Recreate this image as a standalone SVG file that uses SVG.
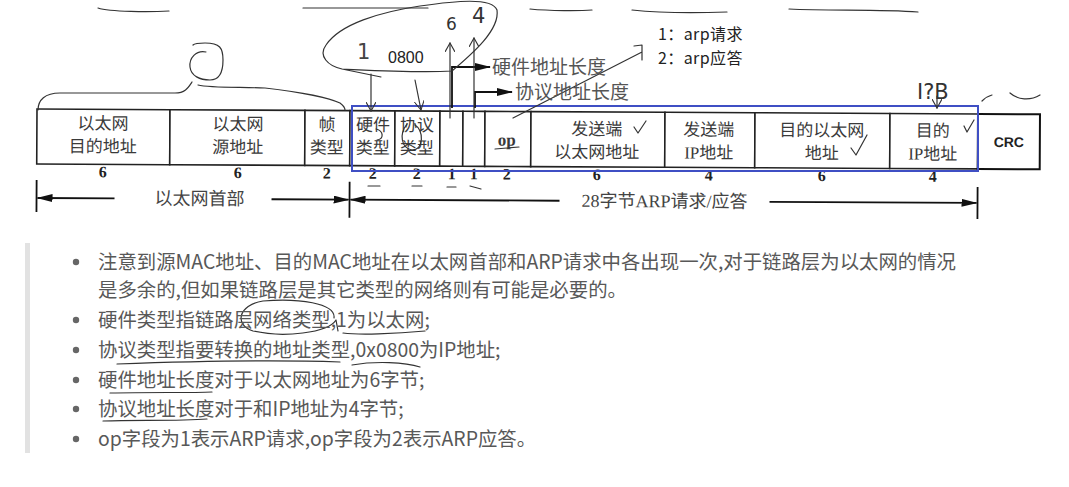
<svg xmlns="http://www.w3.org/2000/svg" width="1069" height="487" viewBox="0 0 1069 487">
<style>
.cell{fill:#fff;stroke:#222;stroke-width:1.6}
.ct{font-family:"Liberation Serif","Noto Sans CJK SC",serif;font-size:17px;fill:#3a3a3a;text-anchor:middle}
.num{font-family:"Liberation Serif","Noto Sans CJK SC",serif;font-size:16px;font-weight:bold;fill:#222;text-anchor:middle}
.lbl{font-family:"Liberation Serif","Noto Sans CJK SC",serif;font-size:18px;fill:#444}
.hand{fill:none;stroke:#333;stroke-width:1.2;stroke-linecap:round;stroke-linejoin:round}
.hw{font-family:"DejaVu Sans",sans-serif;fill:#333}
.ln{fill:none;stroke:#111;stroke-width:1.8}
.body{font-family:"Noto Sans CJK SC","Liberation Sans",sans-serif;font-size:19.4px;fill:#585858}
.bul{fill:#666}
.op{font-family:"Noto Sans CJK SC","Liberation Sans",sans-serif;font-size:16px;fill:#222;letter-spacing:0.4px}
</style>
<defs>
<marker id="ah" markerWidth="16" markerHeight="8" refX="15" refY="4" orient="auto-start-reverse" markerUnits="userSpaceOnUse"><path d="M0,0 L16,4 L0,8 z" fill="#111"/></marker>
<marker id="hv" markerWidth="10" markerHeight="10" refX="9" refY="5" orient="auto" markerUnits="userSpaceOnUse"><path d="M0,0 L9,5 L0,10" fill="none" stroke="#333" stroke-width="1.1"/></marker>
</defs>
<rect width="1069" height="487" fill="#fff"/>

<!-- top cut-off underline strokes -->
<g id="top-marks" class="hand">
<path d="M98,8 C110,12 150,12 169,11"/>
<path d="M303,8 L428,8"/>
<path d="M530,9 C550,11 580,11 592,10"/>
<path d="M632,10 C660,13 700,13 727,12"/>
<path d="M789,9 C830,11 880,9 918,12"/>
</g>

<g transform="rotate(0.3 37 109)">
<g id="n-eth-dst"><rect class="cell" x="37" y="109" width="133" height="55"/><text class="ct" x="103" y="129">以太网</text><text class="ct" x="103" y="152">目的地址</text><text class="num" x="103" y="177">6</text></g>
<g id="n-eth-src"><rect class="cell" x="170" y="109" width="135" height="55"/><text class="ct" x="238" y="129">以太网</text><text class="ct" x="238" y="152">源地址</text><text class="num" x="238" y="177">6</text></g>
<g id="n-frame-type"><rect class="cell" x="305" y="109" width="45" height="55"/><text class="ct" x="327" y="129">帧</text><text class="ct" x="327" y="152">类型</text><text class="num" x="327" y="177">2</text></g>
<g id="n-hw-type"><rect class="cell" x="350" y="109" width="45" height="55"/><text class="ct" x="373" y="129">硬件</text><text class="ct" x="373" y="152">类型</text><text class="num" x="373" y="177">2</text></g>
<g id="n-proto-type"><rect class="cell" x="395" y="109" width="45" height="55"/><text class="ct" x="417" y="129">协议</text><text class="ct" x="417" y="152">类型</text><text class="num" x="417" y="177">2</text></g>
<g id="n-hw-len"><rect class="cell" x="440" y="109" width="23" height="55"/><text class="num" x="452" y="177">1</text></g>
<g id="n-proto-len"><rect class="cell" x="463" y="109" width="22" height="55"/><text class="num" x="474" y="177">1</text></g>
<g id="n-op"><rect class="cell" x="485" y="109" width="46" height="55"/><text class="ct" x="507" y="143" style="font-weight:bold">op</text><text class="num" x="507" y="177">2</text></g>
<g id="n-sender-mac"><rect class="cell" x="531" y="109" width="134" height="55"/><text class="ct" x="597" y="132">发送端</text><text class="ct" x="597" y="155">以太网地址</text><text class="num" x="597" y="177">6</text></g>
<g id="n-sender-ip"><rect class="cell" x="665" y="109" width="90" height="55"/><text class="ct" x="709" y="132">发送端</text><text class="ct" x="709" y="155">IP地址</text><text class="num" x="709" y="177">4</text></g>
<g id="n-target-mac"><rect class="cell" x="755" y="109" width="135" height="55"/><text class="ct" x="822" y="132">目的以太网</text><text class="ct" x="822" y="155">地址</text><text class="num" x="822" y="177">6</text></g>
<g id="n-target-ip"><rect class="cell" x="890" y="109" width="88" height="55"/><text class="ct" x="933" y="132">目的</text><text class="ct" x="933" y="155">IP地址</text><text class="num" x="933" y="177">4</text></g>
<g id="n-crc"><rect x="978" y="109" width="62" height="55" fill="#fff" stroke="#111" stroke-width="2"/><text x="1009" y="142" text-anchor="middle" style="font-family:'Liberation Sans',sans-serif;font-size:14px;font-weight:bold;fill:#222">CRC</text></g>

<g id="span-arrows">
<path class="ln" d="M37,180 V212 M350,180 V216 M978,182 V214"/>
<path class="ln" d="M115,198 H38" marker-end="url(#ah)"/>
<path class="ln" d="M272,198 H349" marker-end="url(#ah)"/>
<path class="ln" d="M560,198 H351" marker-end="url(#ah)"/>
<path class="ln" d="M770,198 H977" marker-end="url(#ah)"/>
<text class="lbl" x="200" y="204" text-anchor="middle">以太网首部</text>
<text class="lbl" x="665" y="204" text-anchor="middle">28字节ARP请求/应答</text>
</g>
</g>

<rect id="arp-box" x="352" y="106" width="626" height="65" fill="none" stroke="#3f4fc4" stroke-width="2"/>

<g id="connectors">
<path class="ln" d="M452,108 V67 H490" marker-end="url(#ah)"/>
<path class="ln" d="M475,108 V92 H512" marker-end="url(#ah)"/>
<path class="hand" d="M513,118 L642,52 M642,45 V60 M634,46 L642,45"/>
</g>
<text class="lbl" x="492" y="74" style="fill:#555;font-size:19px">硬件地址长度</text>
<text class="lbl" x="515" y="99" style="fill:#555;font-size:19px">协议地址长度</text>
<text class="op" x="658" y="40">1：arp请求</text>
<text class="op" x="658" y="64">2：arp应答</text>
<text x="388" y="63" style="font-family:'Liberation Sans',sans-serif;font-size:16px;fill:#222">0800</text>

<g id="handwriting" class="hand">
<path d="M342,69 C328,66 318,56 326,45 C340,24 380,12 420,6 C455,1 492,-3 497,10 C500,30 472,54 452,71 C420,73 385,71 342,69 L381,77"/>
<path d="M450,118 V43" marker-end="url(#hv)"/>
<path d="M474,118 V38" marker-end="url(#hv)"/>
<path d="M371,74 V111" marker-end="url(#hv)"/>
<path d="M415,80 L421,110" marker-end="url(#hv)"/>
<path d="M206,52 C196,50 189,58 190,67 C191,76 200,80 210,80 C220,80 223,72 223,60 C223,48 220,43 205,43 C198,43 194,44 193,45"/>
<path d="M192,82 C188,88 185,93 175,93 L60,93 C45,93 38,100 38,110"/>
<path d="M198,85 C210,88 240,87 265,88 C300,92 330,98 340,103 C344,106 345,108 345,110"/>
<path d="M634,127 L638,133 L646,121"/>
<path d="M851,148 L856,155 L867,135"/>
<path d="M964,126 L967,132 L974,120"/>
<path d="M376,129 C384,131 384,139 377,140"/>
<path d="M407,124 C399,134 401,148 412,150 C424,150 424,130 415,125"/>
<path d="M495,149 L519,147"/>
<path d="M368,186 H380 M412,186 H422 M447,187 H456 M470,186 L481,189"/>
<path d="M937,96 V108" marker-end="url(#hv)"/>
<path d="M982,101 C985,98 988,96 992,95"/>
<path d="M1010,93 C1018,100 1030,101 1040,95"/>
<path d="M334,318 C336,303 298,298 263,301 C238,305 234,325 253,331 C283,338 328,333 336,320 L338,331"/>
<path d="M343,333 C358,335 395,334 425,331"/>
<path d="M117,364 C200,361 280,360 340,362"/>
<path d="M352,365 C375,361 405,362 420,367"/>
<path d="M110,393 C150,392 190,393 212,392"/>
<path d="M103,421 C140,420 180,421 207,419"/>
</g>
<text class="hw" x="357" y="59" style="font-size:21px;fill:#444">1</text>
<text class="hw" x="446" y="30" style="font-size:17px">6</text>
<text class="hw" x="472" y="23" style="font-size:21px">4</text>
<text class="hw" x="917" y="99" style="font-size:21px">I?B</text>

<g id="notes">
<rect x="25" y="243" width="5" height="210" fill="#e2e2e2"/>
<circle class="bul" cx="76" cy="262" r="3.2"/>
<circle class="bul" cx="76" cy="320" r="3.2"/>
<circle class="bul" cx="76" cy="350" r="3.2"/>
<circle class="bul" cx="76" cy="380" r="3.2"/>
<circle class="bul" cx="76" cy="409" r="3.2"/>
<circle class="bul" cx="76" cy="439" r="3.2"/>
<text class="body" x="98" y="269">注意到源MAC地址、目的MAC地址在以太网首部和ARP请求中各出现一次,对于链路层为以太网的情况</text>
<text class="body" x="98" y="297">是多余的,但如果链路层是其它类型的网络则有可能是必要的。</text>
<text class="body" x="98" y="327">硬件类型指链路层网络类型,1为以太网;</text>
<text class="body" x="98" y="357">协议类型指要转换的地址类型,0x0800为IP地址;</text>
<text class="body" x="98" y="387">硬件地址长度对于以太网地址为6字节;</text>
<text class="body" x="98" y="416">协议地址长度对于和IP地址为4字节;</text>
<text class="body" x="98" y="446">op字段为1表示ARP请求,op字段为2表示ARP应答。</text>
</g>
</svg>
